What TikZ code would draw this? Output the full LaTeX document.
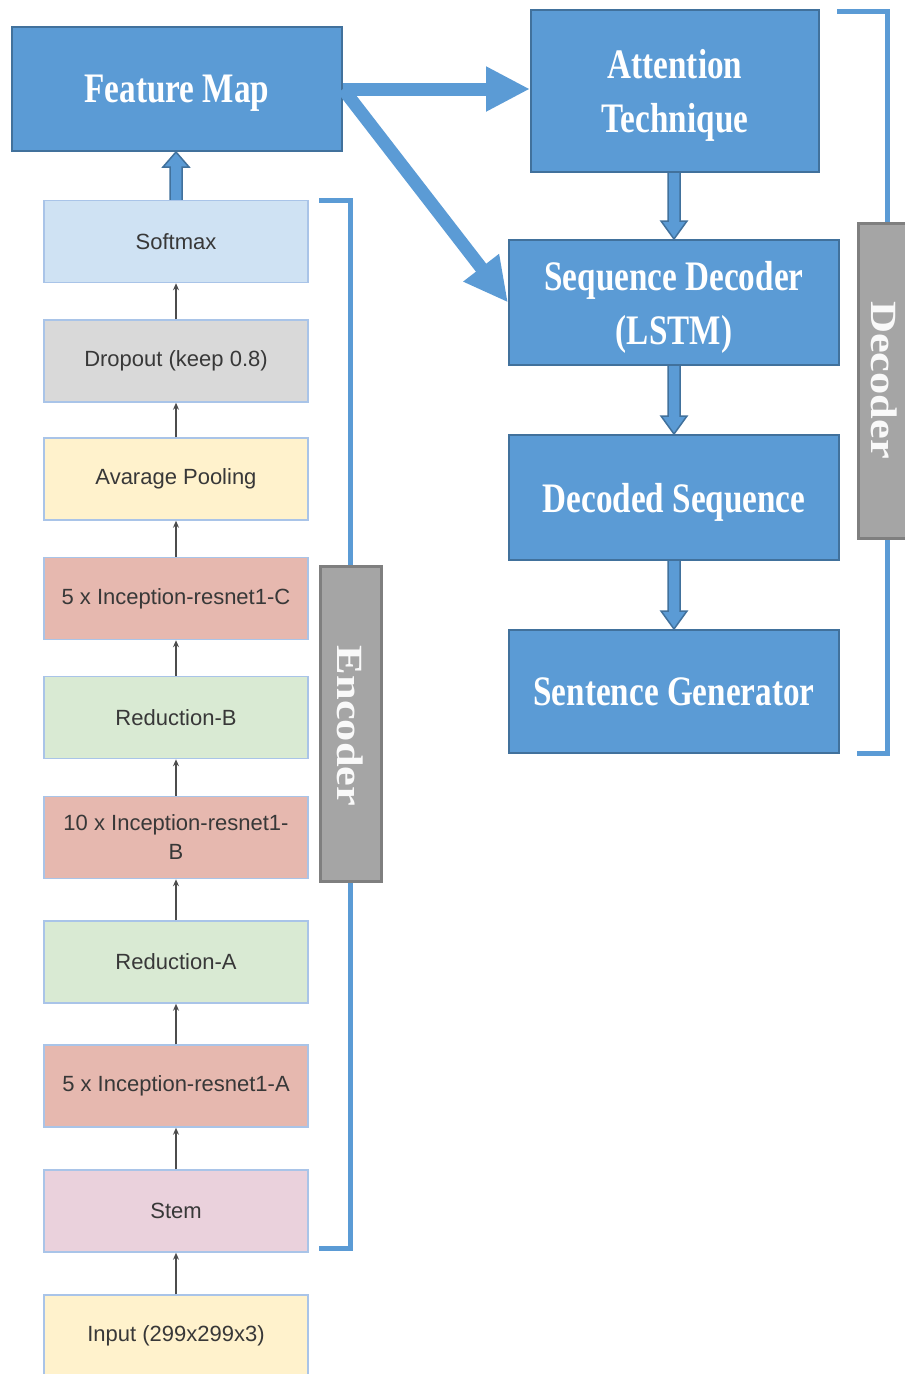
\documentclass[tikz,border=0pt]{standalone}
\usepackage{fontspec}
\setmainfont{Liberation Serif}
\newfontfamily\boxfont[FakeStretch=0.79]{Liberation Serif}
\newfontfamily\labfont[FakeStretch=1.2]{Liberation Serif}
\newfontfamily\encfont{Liberation Sans}
\usetikzlibrary{arrows.meta,calc}
\definecolor{bfill}{HTML}{5B9BD5}
\definecolor{bdraw}{HTML}{41719C}
\definecolor{gfill}{HTML}{A5A5A5}
\definecolor{gdraw}{HTML}{7F7F7F}
\definecolor{cSoft}{HTML}{CFE2F3}
\definecolor{cDrop}{HTML}{D9D9D9}
\definecolor{cYel}{HTML}{FFF2CC}
\definecolor{cInc}{HTML}{E6B8AF}
\definecolor{cRed}{HTML}{D9EAD3}
\definecolor{cStem}{HTML}{EAD1DC}
\definecolor{eborder}{HTML}{A9C4E8}
\definecolor{etext}{HTML}{383838}
\tikzset{
  bluebox/.style={draw=bdraw, fill=bfill, line width=2pt, text=white, align=center, inner sep=0pt,
    text depth=0pt, font=\boxfont\bfseries\fontsize{42}{54}\selectfont},
  encbox/.style={draw=eborder, fill=#1, line width=1.5pt, minimum width=264pt, minimum height=82pt,
    text=etext, align=center, inner sep=0pt, font=\encfont\fontsize{22}{29}\selectfont},
  graybox/.style={draw=gdraw, fill=gfill, line width=3pt, inner sep=0pt},
  graylabel/.style={rotate=-90, text=white!95!gray, inner sep=0pt,
    font=\labfont\bfseries\fontsize{37}{40}\selectfont},
  bracket/.style={draw=bfill, line width=5pt, line join=miter},
  encarrow/.style={draw=black!70, line width=1.5pt, -{Stealth[length=7pt,width=6pt]}},
  bigarrow/.style={draw=bfill, line width=13pt, -{Triangle[length=44pt,width=42pt]}},
  barrow/.style={draw=bdraw, fill=bfill, line width=1.5pt, line join=miter}
}
\begin{document}
\begin{tikzpicture}[x=1pt,y=-1pt]
\useasboundingbox (0,0) rectangle (905,1374);
\fill[white] (0,0) rectangle (905,1374);

% brackets (behind gray label boxes)
\draw[bracket] (319,200) -- (350,200) -- (350,1248) -- (319,1248);
\draw[bracket] (837,11) -- (887,11) -- (887,753) -- (857,753);

% gray label boxes
\node[graybox, minimum width=61pt, minimum height=315pt] (enc) at (350.5,723.5) {};
\node[graylabel] (enclab) at (350,726) {Encoder};
\node[graybox, minimum width=70pt, minimum height=315pt, anchor=north west] (dec) at (857,222) {};
\node[graylabel] (declab) at (884,380) {Decoder};

% blue boxes
\node[bluebox, minimum width=330pt, minimum height=124pt] (fm) at (177,89) {Feature Map};
\node[bluebox, minimum width=288pt, minimum height=162pt] (att) at (675,91) {Attention\\Technique};
\node[bluebox, minimum width=330pt, minimum height=125pt] (sd) at (674,302.5) {Sequence Decoder\\(LSTM)};
\node[bluebox, minimum width=330pt, minimum height=125pt] (ds) at (674,497.5) {Decoded Sequence};
\node[bluebox, minimum width=330pt, minimum height=123pt] (sg) at (674,691.5) {Sentence Generator};

% encoder stack
\node[encbox=cSoft] (soft) at (176,241.5) {Softmax};
\node[encbox=cDrop] (drop) at (176,361) {Dropout (keep 0.8)};
\node[encbox=cYel] (pool) at (176,479) {Avarage Pooling};
\node[encbox=cInc] (incC) at (176,598.5) {5 x Inception-resnet1-C};
\node[encbox=cRed] (redB) at (176,717.5) {Reduction-B};
\node[encbox=cInc] (incB) at (176,837.5) {10 x Inception-resnet1-\\B};
\node[encbox=cRed] (redA) at (176,962) {Reduction-A};
\node[encbox=cInc] (incA) at (176,1086) {5 x Inception-resnet1-A};
\node[encbox=cStem] (stem) at (176,1211) {Stem};
\node[encbox=cYel] (inp) at (176,1336) {Input (299x299x3)};

% thin encoder arrows
\draw[encarrow] (inp.north) -- (stem.south);
\draw[encarrow] (stem.north) -- (incA.south);
\draw[encarrow] (incA.north) -- (redA.south);
\draw[encarrow] (redA.north) -- (incB.south);
\draw[encarrow] (incB.north) -- (redB.south);
\draw[encarrow] (redB.north) -- (incC.south);
\draw[encarrow] (incC.north) -- (pool.south);
\draw[encarrow] (pool.north) -- (drop.south);
\draw[encarrow] (drop.north) -- (soft.south);

% block arrows
\coordinate (fmtip) at (fm.south -| soft.north);
\draw[barrow] ($(soft.north)+(-6,0)$) -- ($(fmtip)+(-6,15)$) -- ($(fmtip)+(-13,15)$) -- (fmtip)
  -- ($(fmtip)+(13,15)$) -- ($(fmtip)+(6,15)$) -- ($(soft.north)+(6,0)$);
\coordinate (atttop) at (sd.north |- att.south);
\draw[barrow] ($(atttop)+(-6,0)$) -- ($(sd.north)+(-6,-18)$) -- ($(sd.north)+(-13,-18)$) -- (sd.north)
  -- ($(sd.north)+(13,-18)$) -- ($(sd.north)+(6,-18)$) -- ($(atttop)+(6,0)$);
\draw[barrow] ($(sd.south)+(-6,0)$) -- ($(ds.north)+(-6,-18)$) -- ($(ds.north)+(-13,-18)$) -- (ds.north)
  -- ($(ds.north)+(13,-18)$) -- ($(ds.north)+(6,-18)$) -- ($(sd.south)+(6,0)$);
\draw[barrow] ($(ds.south)+(-6,0)$) -- ($(sg.north)+(-6,-18)$) -- ($(sg.north)+(-13,-18)$) -- (sg.north)
  -- ($(sg.north)+(13,-18)$) -- ($(sg.north)+(6,-18)$) -- ($(ds.south)+(6,0)$);

% thick arrows from feature map
\draw[bigarrow] (fm.east) -- (att.west |- fm.east);
\draw[bigarrow] (fm.east) -- (sd.west);
\end{tikzpicture}
\end{document}
